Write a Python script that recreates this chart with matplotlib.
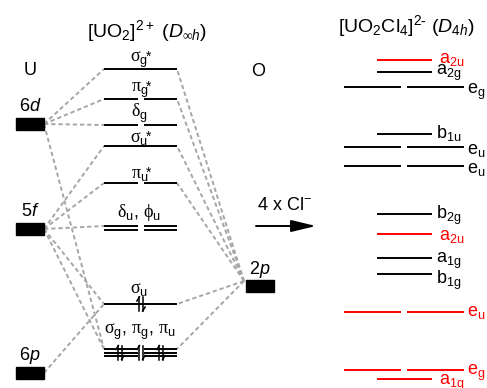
import matplotlib
matplotlib.use("Agg")
import matplotlib.pyplot as plt
from matplotlib.patches import Rectangle

plt.rcParams['font.family'] = 'Liberation Sans'
plt.rcParams['mathtext.fontset'] = 'custom'
plt.rcParams['mathtext.rm'] = 'Liberation Serif'
plt.rcParams['mathtext.sf'] = 'Liberation Sans'
plt.rcParams['mathtext.it'] = 'Liberation Sans:italic'

# U and O atomic orbitals (energy axis grows downward)
u_orbitals = ['6', '5', '6']
u_letters = ['d', 'f', 'p']
u_energy = [124, 229, 373]
o_energy = 286

# [UO2]2+ molecular orbitals
mo_labels = [
    r'$\mathrm{\sigma}_\mathsf{g}$',
    r'$\mathrm{\pi}_\mathsf{g}$',
    r'$\mathrm{\delta}_\mathsf{g}$',
    r'$\mathrm{\sigma}_\mathsf{u}$',
    r'$\mathrm{\pi}_\mathsf{u}$',
    r'$\mathrm{\delta}_\mathsf{u}\mathsf{,}\ \mathrm{\phi}_\mathsf{u}$',
    r'$\mathrm{\sigma}_\mathsf{u}$',
    r'$\mathrm{\sigma}_\mathsf{g}\mathsf{,}\ \mathrm{\pi}_\mathsf{g}\mathsf{,}\ \mathrm{\pi}_\mathsf{u}$',
]
mo_antibonding = [True, True, False, True, True, False, False, False]
mo_energy = [69, 99, 125, 146, 183, 226, 304, 349]
mo_split = [False, True, True, False, True, True, False, True]
mo_nlines = [1, 1, 1, 1, 1, 2, 1, 3]

# correlation lines: (U orbital index, MO index) and MO indices reached from O 2p
u_links = [(0, 0), (0, 1), (0, 2), (0, 7), (1, 3), (1, 4), (1, 5), (1, 6), (1, 7), (2, 6)]
o_links = [0, 1, 3, 4, 6, 7]

# filled levels: MO index and horizontal spots of each electron pair
pair_mo = [6, 7, 7, 7]
pair_x = [141, 120, 141, 161]

# [UO2Cl4]2- levels
d4h_names = ['a', 'a', 'e', 'b', 'e', 'e', 'b', 'a', 'a', 'b', 'e', 'e', 'a']
d4h_subs = ['2u', '2g', 'g', '1u', 'u', 'u', '2g', '2u', '1g', '1g', 'u', 'g', '1g']
d4h_energy = [60, 72, 87, 134, 147, 166, 214, 234, 258, 274, 312, 370, 379]
d4h_red = [True, False, False, False, False, False, False, True, False, False, True, True, True]

fig = plt.figure(figsize=(4.87, 3.88), dpi=100)
ax = fig.add_axes([0, 0, 1, 1])
ax.set_xlim(0, 487)
ax.set_ylim(388, 0)
ax.axis('off')

dash = dict(color='#a6a6a6', lw=1.4, linestyle=(0, (2.2, 1.5)), zorder=1)
BOX_W, BOX_H = 28, 12
U_X = 16
O_X = 246
MO_X0, MO_X1, MO_GAP = 104, 177, 3
LINE_STEP = 3.5
FS = 13


def draw_level(x0, x1, y, split, nlines, color):
    mid = (x0 + x1) / 2
    spans = [(x0, mid - MO_GAP), (mid + MO_GAP, x1)] if split else [(x0, x1)]
    for k in range(nlines):
        for a, b in spans:
            ax.plot([a, b], [y + k * LINE_STEP] * 2, color=color, lw=1.4,
                    solid_capstyle='butt', zorder=3)


def electron_pair(x, y):
    h, bx, by = 7, 2.5, 4
    ax.plot([x - 1.6] * 2, [y + h, y - h], color='k', lw=1.1, zorder=4)
    ax.plot([x - 1.6, x - 1.6 - bx], [y - h, y - h + by], color='k', lw=1.1, zorder=4)
    ax.plot([x + 1.6] * 2, [y - h, y + h], color='k', lw=1.1, zorder=4)
    ax.plot([x + 1.6, x + 1.6 + bx], [y + h, y + h - by], color='k', lw=1.1, zorder=4)


# atomic orbital boxes
for orb, let, e in zip(u_orbitals, u_letters, u_energy):
    ax.add_patch(Rectangle((U_X, e - BOX_H / 2), BOX_W, BOX_H, color='k', zorder=3))
    ax.text(U_X + BOX_W / 2, e - 13, orb + r'$\mathit{' + let + '}$', ha='center',
            va='baseline', fontsize=FS)
ax.add_patch(Rectangle((O_X, o_energy - BOX_H / 2), BOX_W, BOX_H, color='k', zorder=3))
ax.text(O_X + BOX_W / 2, o_energy - 12, r'2$\mathit{p}$', ha='center', va='baseline',
        fontsize=FS)
ax.text(U_X + BOX_W / 2, 75, 'U', ha='center', va='baseline', fontsize=FS)
ax.text(258, 76, 'O', ha='center', va='baseline', fontsize=FS)

# [UO2]2+ column
label_pad = [7, 7, 8, 4, 5, 9, 11, 15]
mid_x = (MO_X0 + MO_X1) / 2
for lab, star, e, sp, n, pad in zip(mo_labels, mo_antibonding, mo_energy, mo_split,
                                     mo_nlines, label_pad):
    draw_level(MO_X0, MO_X1, e, sp, n, 'k')
    ax.text(mid_x - 1, e - pad, lab, ha='center', va='baseline', fontsize=FS)
    if star:
        ax.text(mid_x + 5, e - pad - 1, '*', va='baseline', fontsize=10)

for i, j in u_links:
    ax.plot([U_X + BOX_W, MO_X0], [u_energy[i], mo_energy[j]], **dash)
for j in o_links:
    ax.plot([O_X - 2, MO_X1], [o_energy - 5, mo_energy[j]], **dash)

for j, x in zip(pair_mo, pair_x):
    electron_pair(x, mo_energy[j] + (mo_nlines[j] - 1) * LINE_STEP / 2)

ax.text(147, 37, r'[UO$_\mathsf{2}$]$^\mathsf{2+}$ ($\mathit{D}_{\infty \mathit{h}}$)',
        ha='center', va='baseline', fontsize=14)

# [UO2Cl4]2- column
label_dy = [3, 3, 7, 4, 7, 7, 5, 6, 5, 10, 4, 5, 6]
for name, sub, e, red, dy in zip(d4h_names, d4h_subs, d4h_energy, d4h_red, label_dy):
    color = '#ff0000' if red else 'k'
    text = name + r'$_\mathsf{' + sub + '}$'
    if name == 'e':
        draw_level(344, 464, e, True, 1, color)
        ax.text(467, e + dy, text, color=color, va='baseline', fontsize=FS)
    else:
        draw_level(377, 432, e, False, 1, color)
        ax.text(436 + (3 if red else 0), e + dy, text, color=color, va='baseline',
                fontsize=FS)

ax.text(406, 32, r'[UO$_\mathsf{2}$Cl$_\mathsf{4}$]$^\mathsf{2\text{-}}$ ($\mathit{D}_{\mathsf{4}\mathit{h}}$)',
        ha='center', va='baseline', fontsize=14)

ax.text(257, 210, r'4 x Cl$^\mathsf{-}$', va='baseline', fontsize=FS)
ax.annotate('', xy=(316, 226), xytext=(256, 226),
            arrowprops=dict(arrowstyle='-|>,head_length=0.75,head_width=0.18',
                            color='k', lw=1.4, mutation_scale=20, shrinkA=0, shrinkB=0))

fig.savefig('out.png', dpi=100, facecolor='white')
